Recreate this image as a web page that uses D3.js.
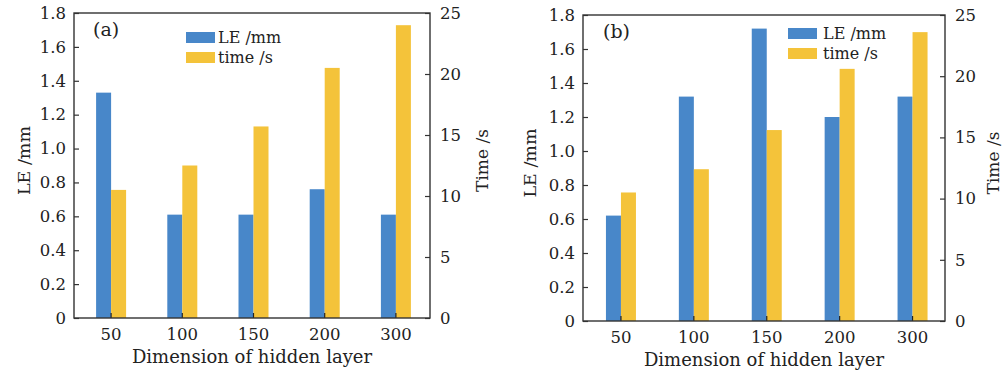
<!DOCTYPE html>
<html><head><meta charset="utf-8">
<script src="https://cdn.jsdelivr.net/npm/d3@7"></script>
<style>body{margin:0;background:#fff}svg{display:block}</style>
</head><body><svg id="c" width="1003" height="373"></svg>
<script>
const categories = ["50", "100", "150", "200", "300"];
const leA = [1.33, 0.61, 0.61, 0.76, 0.61];
const timeA = [10.5, 12.5, 15.7, 20.5, 24.0];
const leB = [0.62, 1.32, 1.72, 1.20, 1.32];
const timeB = [10.5, 12.4, 15.6, 20.6, 23.6];
const leTicks = [0, 0.2, 0.4, 0.6, 0.8, 1.0, 1.2, 1.4, 1.6, 1.8];
const timeTicks = [0, 5, 10, 15, 20, 25];
const seriesNames = ["LE /mm", "time /s"];
const panelLabels = ["(a)", "(b)"];

const colors = ["#4887c9", "#f4c33a"];
const font = "DejaVu Serif";
const svg = d3.select("#c");

const panels = [
  {label: panelLabels[0], le: leA, time: timeA, x0: 74, x1: 430, y0: 13, y1: 318, shift: [1.5, 1.5],
   legend: {x: 186, y: 32, tx: 218}, lab: {x: 93, y: 36}, xlab: 340, xtitle: 363, lt: 44, rt: 58},
  {label: panelLabels[1], le: leB, time: timeB, x0: 583, x1: 945, y0: 15, y1: 321, shift: [1.5, 4],
   legend: {x: 788, y: 28, tx: 823}, lab: {x: 603, y: 38}, xlab: 343, xtitle: 366, lt: 47, rt: 54}
];

panels.forEach(p => {
  const g = svg.append("g");
  const x = d3.scaleBand().domain(categories).range([p.x0 + p.shift[0], p.x1 + p.shift[1]]).padding(0);
  const yL = d3.scaleLinear().domain([0, 1.8]).range([p.y1, p.y0]);
  const yR = d3.scaleLinear().domain([0, 25]).range([p.y1, p.y0]);
  const bw = 15;
  const sub = d3.scaleBand().domain([0, 1]).range([-bw, bw]);

  g.selectAll(".le").data(categories).enter().append("rect")
    .attr("x", (c) => x(c) + x.bandwidth() / 2 + sub(0))
    .attr("width", sub.bandwidth())
    .attr("y", (c, i) => yL(p.le[i]))
    .attr("height", (c, i) => yL(0) - yL(p.le[i]))
    .attr("fill", colors[0]);
  g.selectAll(".tm").data(categories).enter().append("rect")
    .attr("x", (c) => x(c) + x.bandwidth() / 2 + sub(1))
    .attr("width", sub.bandwidth())
    .attr("y", (c, i) => yR(p.time[i]))
    .attr("height", (c, i) => yR(0) - yR(p.time[i]))
    .attr("fill", colors[1]);

  const la = g.append("g").attr("transform", `translate(${p.x0},0)`)
    .call(d3.axisRight(yL).tickValues(leTicks).tickSize(5).tickFormat(() => ""));
  la.select(".domain").remove();
  la.selectAll("line").attr("stroke", "#333").attr("stroke-width", 1.2);
  g.selectAll(".ltl").data(leTicks).enter().append("text")
    .attr("x", p.x0 - 8).attr("y", d => yL(d)).attr("dy", "0.35em")
    .attr("text-anchor", "end").attr("font-family", font).attr("font-size", 16.5).attr("fill", "#222")
    .text(d => d === 0 ? "0" : d.toFixed(1));

  const ra = g.append("g").attr("transform", `translate(${p.x1},0)`)
    .call(d3.axisLeft(yR).tickValues(timeTicks).tickSize(5).tickFormat(() => ""));
  ra.select(".domain").remove();
  ra.selectAll("line").attr("stroke", "#333").attr("stroke-width", 1.2);
  g.selectAll(".rtl").data(timeTicks).enter().append("text")
    .attr("x", p.x1 + 10).attr("y", d => yR(d)).attr("dy", "0.35em")
    .attr("text-anchor", "start").attr("font-family", font).attr("font-size", 16.5).attr("fill", "#222")
    .text(d => d);

  const ba = g.append("g").attr("transform", `translate(0,${p.y1})`)
    .call(d3.axisTop(x).tickSize(5).tickFormat(() => ""));
  ba.select(".domain").remove();
  ba.selectAll("line").attr("stroke", "#222").attr("stroke-width", 1.2);
  g.selectAll(".xtl").data(categories).enter().append("text")
    .attr("x", c => x(c) + x.bandwidth() / 2).attr("y", p.xlab)
    .attr("text-anchor", "middle").attr("font-family", font).attr("font-size", 16.5).attr("fill", "#222")
    .text(c => c);

  g.append("rect").attr("x", p.x0).attr("y", p.y0).attr("width", p.x1 - p.x0).attr("height", p.y1 - p.y0)
    .attr("fill", "none").attr("stroke", "#333").attr("stroke-width", 1.4);

  g.append("text").attr("x", (p.x0 + p.x1) / 2).attr("y", p.xtitle).attr("text-anchor", "middle")
    .attr("font-family", font).attr("font-size", 18).attr("fill", "#222").text("Dimension of hidden layer");
  g.append("text").attr("transform", `translate(${p.x0 - p.lt},${(p.y0 + p.y1) / 2 - 5}) rotate(-90)`)
    .attr("text-anchor", "middle").attr("font-family", font).attr("font-size", 17.5).attr("fill", "#222").text("LE /mm");
  g.append("text").attr("transform", `translate(${p.x1 + p.rt},${(p.y0 + p.y1) / 2 - 5}) rotate(-90)`)
    .attr("text-anchor", "middle").attr("font-family", font).attr("font-size", 17).attr("fill", "#222").text("Time /s");

  g.append("text").attr("x", p.lab.x).attr("y", p.lab.y).attr("font-family", font).attr("font-size", 19)
    .attr("fill", "#222").text(p.label);

  seriesNames.forEach((s, i) => {
    g.append("rect").attr("x", p.legend.x).attr("y", p.legend.y + i * 20).attr("width", 29).attr("height", 11)
      .attr("fill", colors[i]);
    g.append("text").attr("x", p.legend.tx).attr("y", p.legend.y + i * 20 + 11).attr("font-family", font)
      .attr("font-size", 16).attr("fill", "#222").text(s);
  });
});
</script></body></html>
